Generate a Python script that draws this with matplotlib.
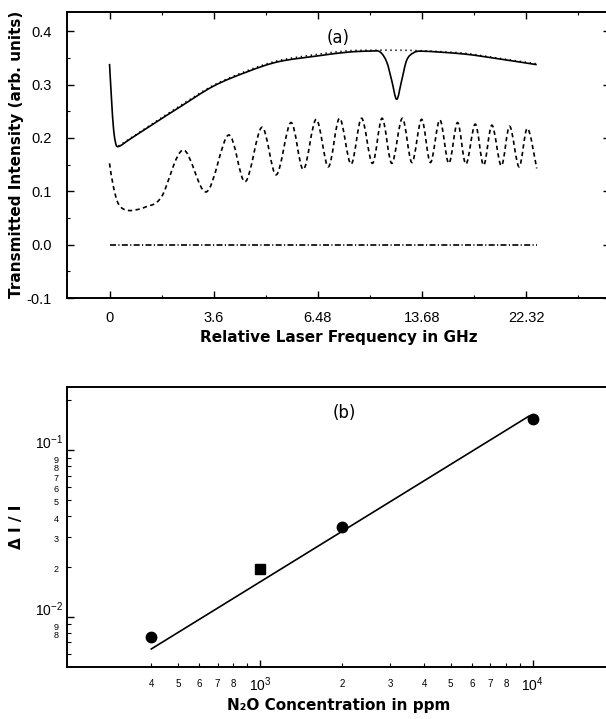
import numpy as np
import matplotlib
matplotlib.use("Agg")
import matplotlib.pyplot as plt
from matplotlib.path import Path
from matplotlib.patches import PathPatch
from matplotlib.ticker import FixedLocator, NullFormatter

plt.rcParams['font.family'] = ['Liberation Sans', 'DejaVu Sans']
plt.rcParams['mathtext.fontset'] = 'custom'
plt.rcParams['mathtext.rm'] = 'Liberation Sans'
plt.rcParams['mathtext.default'] = 'regular'

# ---- panel (a): transmitted intensity vs relative laser frequency ----
# x in tick-position units (the axis labels are not evenly spaced values)
freq_ticks = [0, 1, 2, 3, 4]
freq_labels = ["0", "3.6", "6.48", "13.68", "22.32"]

# signal with N2O absorption line (solid)
sig_x = [0.0, 0.02, 0.037, 0.056, 0.086, 0.205, 0.43, 0.69, 1.0, 1.32, 1.62, 2.0,
         2.29, 2.51, 2.596, 2.66, 2.708, 2.756, 2.804, 2.852, 2.916, 3.01, 3.40,
         3.716, 4.10]
sig_y = [0.339, 0.27, 0.221, 0.193, 0.184, 0.199, 0.2275, 0.26, 0.2975, 0.324,
         0.343, 0.354, 0.361, 0.363, 0.3614, 0.3426, 0.308, 0.2726, 0.308,
         0.3458, 0.3595, 0.3627, 0.3575, 0.349, 0.3375]

# baseline without absorption (dotted)
base_x = [0.086, 0.205, 0.43, 0.69, 1.0, 1.32, 1.62, 2.0, 2.29, 2.51, 2.75,
          3.01, 3.40, 3.716, 4.10]
base_y = [0.185, 0.200, 0.229, 0.262, 0.299, 0.326, 0.345, 0.357, 0.3635,
          0.3645, 0.3645, 0.3635, 0.359, 0.350, 0.339]

# etalon fringes (dashed)
etalon_x = [0.0, 0.037, 0.09, 0.186, 0.35, 0.50, 0.707, 0.93, 1.142, 1.302,
            1.462, 1.60, 1.741, 1.86, 1.983, 2.10, 2.207, 2.318, 2.419, 2.523,
            2.616, 2.709, 2.81, 2.902, 2.995, 3.08, 3.17, 3.256, 3.34, 3.42,
            3.51, 3.59, 3.67, 3.76, 3.84, 3.93, 4.01, 4.10]
etalon_y = [0.1525, 0.109, 0.075, 0.064, 0.071, 0.09, 0.1775, 0.099, 0.2056,
            0.118, 0.22, 0.131, 0.229, 0.141, 0.235, 0.146, 0.237, 0.151,
            0.237, 0.1525, 0.237, 0.1525, 0.237, 0.154, 0.235, 0.154, 0.234,
            0.1525, 0.229, 0.151, 0.226, 0.149, 0.224, 0.148, 0.222, 0.146,
            0.218, 0.143]

# zero level (dash-dot)
zero_x = [0.0, 4.10]
zero_y = [0.0, 0.0]

# ---- panel (b): dI/I vs N2O concentration ----
conc_circ = [400, 2000, 10000]
dI_circ = [0.0075, 0.0344, 0.153]
conc_sq = [1000]
dI_sq = [0.0193]
fit_conc = [400, 9700]
fit_dI = [0.0064, 0.160]


def smooth_path(xs, ys):
    # catmull-rom through the read points, drawn as cubic bezier
    p = np.column_stack([xs, ys]).astype(float)
    verts = [p[0]]
    codes = [Path.MOVETO]
    for i in range(len(p) - 1):
        p0 = p[i - 1] if i > 0 else p[i]
        p3 = p[i + 2] if i + 2 < len(p) else p[i + 1]
        verts += [p[i] + (p[i + 1] - p0) / 6, p[i + 1] - (p3 - p[i]) / 6, p[i + 1]]
        codes += [Path.CURVE4] * 3
    return Path(verts, codes)


fig = plt.figure(figsize=(6.06, 7.19), dpi=100)
W, H = 606, 719

# top panel
ax1 = fig.add_axes([67 / W, 1 - 298 / H, (610 - 67) / W, (298 - 11.7) / H])
ax1.add_patch(PathPatch(smooth_path(sig_x, sig_y), fill=False, lw=1.2, ec='black'))
ax1.add_patch(PathPatch(smooth_path(base_x, base_y), fill=False, lw=1.2, ec='black',
                        ls=(0, (0.8, 2.2))))
ax1.add_patch(PathPatch(smooth_path(etalon_x, etalon_y), fill=False, lw=1.2, ec='black',
                        ls=(0, (2.6, 2.0))))
ax1.plot(zero_x, zero_y, color='black', lw=1.2, ls=(0, (3.6, 1.4, 0.7, 1.4)))
ax1.text(2.195, 0.387, "(a)", ha='center', va='center', fontsize=12,
         family='DejaVu Sans')

ax1.set_xlim(-0.408, 4.803)
ax1.set_ylim(-0.1, 0.4368)
ax1.set_xticks(freq_ticks)
ax1.set_xticklabels(freq_labels)
ax1.xaxis.set_minor_locator(FixedLocator(np.arange(-0.5, 5.0, 1.0)))
ax1.set_yticks([-0.1, 0.0, 0.1, 0.2, 0.3, 0.4])
ax1.set_yticklabels(["-0.1", "0.0", "0.1", "0.2", "0.3", "0.4"])
ax1.yaxis.set_minor_locator(FixedLocator(np.arange(-0.05, 0.45, 0.1)))
ax1.tick_params(which='both', direction='in', top=True, right=True, labelsize=10.5)
ax1.tick_params(axis='x', which='major', length=5, width=1, pad=9)
ax1.tick_params(axis='y', which='major', length=5, width=1, pad=11)
ax1.tick_params(which='minor', length=2.5, width=0.8)
for s in ax1.spines.values():
    s.set_linewidth(1.4)
ax1.set_xlabel("Relative Laser Frequency in GHz", fontsize=11, fontweight='bold',
               family='DejaVu Sans', labelpad=4)
ax1.set_ylabel("Transmitted Intensity (arb. units)", fontsize=11, fontweight='bold',
               family='DejaVu Sans', labelpad=2)

# bottom panel
ax2 = fig.add_axes([67 / W, 1 - 666.7 / H, (610 - 67) / W, (666.7 - 386.7) / H])
ax2.set_xscale('log')
ax2.set_yscale('log')
ax2.plot(fit_conc, fit_dI, color='black', lw=1.2)
ax2.plot(conc_circ, dI_circ, 'o', color='black', ms=7.5)
ax2.plot(conc_sq, dI_sq, 's', color='black', ms=7)
ax2.text(2037, 0.167, "(b)", ha='center', va='center', fontsize=12,
         family='DejaVu Sans')

ax2.set_xlim(196.4, 19190)
ax2.set_ylim(0.00501, 0.2399)

ax2.set_xticks([1000, 10000])
ax2.set_xticklabels(["$10^{3}$", "$10^{4}$"], fontsize=10)
xminor = [400, 500, 600, 700, 800, 900, 2000, 3000, 4000, 5000, 6000, 7000, 8000, 9000]
ax2.xaxis.set_minor_locator(FixedLocator(xminor))
ax2.xaxis.set_minor_formatter(NullFormatter())
for v in xminor:
    if v in (900, 9000):
        continue
    lead = v // 1000 if v >= 1000 else v // 100
    ax2.annotate(str(lead), (v, 0), xycoords=('data', 'axes fraction'),
                 xytext=(0, -12.5), textcoords='offset points', ha='center', va='center',
                 fontsize=7)

# y tick labels drawn by hand so the decade labels sit just above the small digits
ax2.yaxis.set_major_locator(FixedLocator([0.01, 0.1]))
ax2.yaxis.set_major_formatter(NullFormatter())
for v, txt in [(0.01, "$10^{-2}$"), (0.1, "$10^{-1}$")]:
    ax2.annotate(txt, (0, v), xycoords=('axes fraction', 'data'),
                 xytext=(-3, 5), textcoords='offset points', ha='right', va='center',
                 fontsize=10)
yminor = [0.006, 0.007, 0.008, 0.009, 0.02, 0.03, 0.04, 0.05, 0.06, 0.07, 0.08, 0.09, 0.2]
ax2.yaxis.set_minor_locator(FixedLocator(yminor))
ax2.yaxis.set_minor_formatter(NullFormatter())
for v in [0.008, 0.009, 0.02, 0.03, 0.04, 0.05, 0.06, 0.07, 0.08, 0.09]:
    lead = int(round(v / 10 ** np.floor(np.log10(v))))
    ax2.annotate(str(lead), (0, v), xycoords=('axes fraction', 'data'),
                 xytext=(-6, -2), textcoords='offset points', ha='right', va='center',
                 fontsize=6.5)

ax2.tick_params(which='both', direction='in', top=False, right=False)
ax2.tick_params(axis='x', which='major', length=5, width=1, pad=6)
ax2.tick_params(axis='y', which='major', length=5, width=1)
ax2.tick_params(which='minor', length=3, width=0.8)
for s in ax2.spines.values():
    s.set_linewidth(1.4)
ax2.set_xlabel("N\u2082O Concentration in ppm", fontsize=11, fontweight='bold',
               family='DejaVu Sans', labelpad=3)
fig.text(17 / W, 1 - 527 / H, "\u0394 I / I", rotation=90, ha='center', va='center',
         fontsize=11, fontweight='bold', family='DejaVu Sans')

fig.savefig("out.png", dpi=100)
